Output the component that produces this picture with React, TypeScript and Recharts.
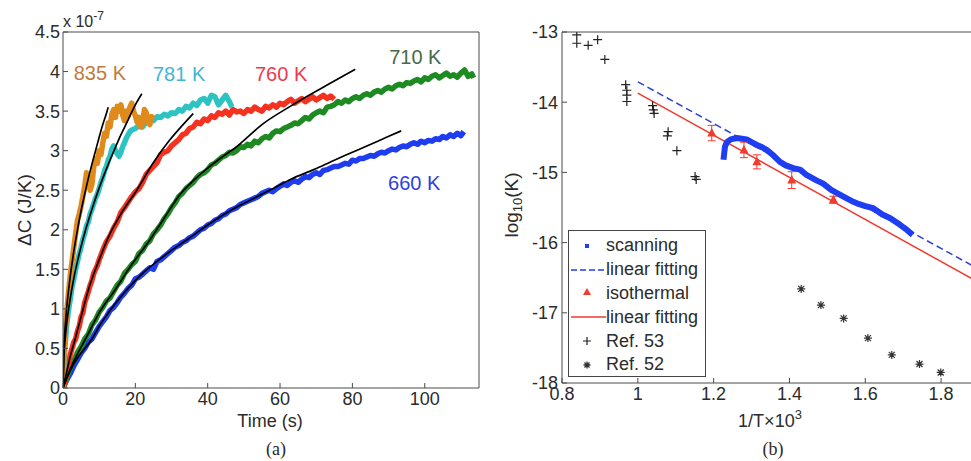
import React from "react";
import {
  ComposedChart, Line, Scatter, XAxis, YAxis, ReferenceDot, ErrorBar, Legend,
} from "recharts";

// ---------- panel (a): ΔC vs time, [t (s), ΔC (x1e-7 J/K)] ----------
const c660: number[][] = [
  [0, 0], [0.5, 0.05], [1, 0.1], [2, 0.18], [3, 0.28], [4, 0.36], [5, 0.44], [6, 0.5], [7, 0.58], [8, 0.62],
  [9, 0.7], [10, 0.78], [11, 0.84], [12, 0.9], [13, 0.98], [14, 1.02], [15, 1.08], [16, 1.15], [17, 1.2], [18, 1.26],
  [19, 1.3], [20, 1.38], [21, 1.4], [22, 1.44], [23, 1.48], [24, 1.52], [25, 1.5], [26, 1.6], [27, 1.62], [28, 1.66],
  [29, 1.7], [30, 1.74], [31, 1.78], [32, 1.8], [33, 1.84], [34, 1.86], [35, 1.9], [36, 1.92], [37, 1.96], [38, 2.0],
  [39, 2.02], [40, 2.06], [41, 2.08], [42, 2.12], [43, 2.14], [44, 2.18], [45, 2.2], [46, 2.24], [47, 2.26], [48, 2.28],
  [49, 2.32], [50, 2.34], [51, 2.36], [52, 2.38], [53, 2.4], [54, 2.42], [55, 2.46], [56, 2.48], [57, 2.5], [58, 2.48],
  [59, 2.52], [60, 2.55], [61, 2.58], [62, 2.56], [63, 2.6], [64, 2.62], [65, 2.6], [66, 2.64], [67, 2.67], [68, 2.66],
  [69, 2.7], [70, 2.72], [71, 2.7], [72, 2.75], [73, 2.76], [74, 2.78], [75, 2.8], [76, 2.8], [77, 2.82], [78, 2.84],
  [79, 2.83], [80, 2.88], [81, 2.87], [82, 2.9], [83, 2.9], [84, 2.92], [85, 2.94], [86, 2.93], [87, 2.96], [88, 2.98],
  [89, 2.97], [90, 3.0], [91, 3.02], [92, 3.01], [93, 3.04], [94, 3.06], [95, 3.05], [96, 3.08], [97, 3.1], [98, 3.08],
  [99, 3.12], [100, 3.1], [101, 3.13], [102, 3.12], [103, 3.15], [104, 3.14], [105, 3.18], [106, 3.16], [107, 3.2],
  [108, 3.18], [109, 3.22], [110, 3.19], [110.8, 3.24],
];
const c710: number[][] = [
  [0, 0], [0.5, 0.05], [1, 0.12], [1.5, 0.2], [2, 0.26], [3, 0.34], [4, 0.45], [5, 0.52], [6, 0.62], [7, 0.68],
  [8, 0.8], [9, 0.86], [10, 0.96], [11, 1.02], [12, 1.1], [13, 1.14], [14, 1.22], [15, 1.3], [16, 1.35], [17, 1.45],
  [18, 1.5], [19, 1.56], [20, 1.6], [21, 1.7], [22, 1.74], [23, 1.82], [24, 1.86], [25, 1.95], [26, 2.0], [27, 2.06],
  [28, 2.14], [29, 2.2], [30, 2.28], [31, 2.34], [32, 2.42], [33, 2.46], [34, 2.52], [35, 2.56], [36, 2.6], [37, 2.66],
  [38, 2.7], [39, 2.72], [40, 2.76], [41, 2.82], [42, 2.84], [43, 2.88], [44, 2.92], [45, 2.94], [46, 2.98], [47, 2.97],
  [48, 3.0], [49, 3.05], [50, 3.04], [51, 3.08], [52, 3.06], [53, 3.12], [54, 3.1], [55, 3.15], [56, 3.18], [57, 3.16],
  [58, 3.22], [59, 3.25], [60, 3.24], [61, 3.28], [62, 3.3], [63, 3.32], [64, 3.35], [65, 3.34], [66, 3.38], [67, 3.42],
  [68, 3.4], [69, 3.45], [70, 3.48], [71, 3.5], [72, 3.48], [73, 3.55], [74, 3.56], [75, 3.58], [76, 3.62], [77, 3.6],
  [78, 3.64], [79, 3.62], [80, 3.66], [81, 3.68], [82, 3.66], [83, 3.7], [84, 3.72], [85, 3.7], [86, 3.74], [87, 3.76],
  [88, 3.74], [89, 3.78], [90, 3.8], [91, 3.78], [92, 3.82], [93, 3.84], [94, 3.82], [95, 3.86], [96, 3.85], [97, 3.88],
  [98, 3.9], [99, 3.87], [100, 3.92], [101, 3.9], [102, 3.94], [103, 3.96], [104, 3.92], [105, 3.95], [106, 3.98],
  [107, 3.94], [108, 3.96], [109, 3.93], [110, 3.98], [111, 4.02], [112, 3.94], [113, 3.97], [113.5, 3.92],
];
const c760: number[][] = [
  [0, 0], [0.5, 0.08], [1, 0.18], [1.5, 0.3], [2, 0.42], [2.5, 0.5], [3, 0.58], [3.5, 0.62], [4, 0.72], [4.5, 0.78],
  [5, 0.9], [5.5, 0.95], [6, 1.08], [6.5, 1.15], [7, 1.22], [7.5, 1.3], [8, 1.36], [8.5, 1.45], [9, 1.5], [9.5, 1.55],
  [10, 1.62], [11, 1.74], [12, 1.85], [13, 1.92], [14, 2.02], [15, 2.1], [16, 2.22], [17, 2.28], [18, 2.35], [19, 2.42],
  [20, 2.48], [21, 2.52], [22, 2.6], [23, 2.7], [24, 2.75], [25, 2.8], [26, 2.85], [27, 2.95], [28, 2.98], [29, 3.0],
  [30, 3.06], [31, 3.1], [32, 3.14], [33, 3.2], [34, 3.22], [35, 3.28], [36, 3.3], [37, 3.36], [38, 3.34], [39, 3.4],
  [40, 3.38], [41, 3.44], [42, 3.42], [43, 3.48], [44, 3.46], [45, 3.5], [46, 3.45], [47, 3.52], [48, 3.49], [49, 3.5],
  [50, 3.47], [51, 3.52], [52, 3.5], [53, 3.55], [54, 3.52], [55, 3.5], [56, 3.56], [57, 3.54], [58, 3.58], [59, 3.55],
  [60, 3.6], [61, 3.58], [62, 3.62], [63, 3.65], [64, 3.6], [65, 3.63], [66, 3.66], [67, 3.62], [68, 3.65], [69, 3.68],
  [70, 3.64], [71, 3.67], [72, 3.7], [73, 3.66], [74, 3.69], [75, 3.65],
];
const c781: number[][] = [
  [0, 0], [0.5, 0.5], [1, 0.78], [1.5, 0.98], [2, 1.12], [2.5, 1.28], [3, 1.38], [3.5, 1.5], [4, 1.6], [4.5, 1.7],
  [5, 1.78], [5.5, 1.88], [6, 1.95], [6.5, 2.05], [7, 2.1], [7.5, 2.2], [8, 2.26], [8.5, 2.33], [9, 2.4], [9.5, 2.45],
  [10, 2.52], [10.5, 2.6], [11, 2.66], [11.5, 2.75], [12, 2.8], [12.5, 2.88], [13, 2.93], [13.5, 3.02], [14, 3.06],
  [14.5, 3.0], [15, 2.96], [15.5, 2.93], [16, 2.98], [16.5, 3.05], [17, 3.1], [17.5, 3.16], [18, 3.2], [18.5, 3.24],
  [19, 3.26], [20, 3.28], [21, 3.32], [22, 3.3], [23, 3.36], [24, 3.4], [25, 3.38], [26, 3.43], [27, 3.42], [28, 3.46],
  [29, 3.44], [30, 3.48], [31, 3.47], [32, 3.52], [33, 3.5], [34, 3.56], [35, 3.54], [36, 3.6], [37, 3.57], [38, 3.64],
  [39, 3.66], [40, 3.6], [41, 3.7], [42, 3.68], [43, 3.58], [44, 3.64], [45, 3.7], [46, 3.62], [46.7, 3.55],
];
const c835: number[][] = [
  [0, 0], [0.3, 0.45], [0.6, 0.7], [1, 0.95], [1.5, 1.2], [2, 1.42], [2.5, 1.6], [3, 1.78], [3.5, 1.95], [4, 2.12],
  [4.5, 2.2], [5, 2.3], [5.5, 2.42], [6, 2.55], [6.5, 2.72], [7, 2.62], [7.5, 2.5], [8, 2.58], [8.5, 2.8], [9, 2.9],
  [9.5, 2.84], [10, 3.0], [10.5, 2.95], [11, 3.1], [11.5, 3.22], [12, 3.18], [12.5, 3.35], [13, 3.3], [13.5, 3.46],
  [14, 3.52], [14.5, 3.42], [15, 3.56], [15.5, 3.5], [16, 3.58], [16.5, 3.45], [17, 3.38], [17.5, 3.5], [18, 3.44],
  [18.5, 3.55], [19, 3.6], [19.5, 3.5], [20, 3.44], [20.5, 3.36], [21, 3.42], [21.5, 3.3], [22, 3.34], [22.5, 3.52],
  [23, 3.48], [23.5, 3.38], [24, 3.33], [24.5, 3.43], [25, 3.4],
];

// black fitted curves
const fit660: number[][] = [
  [0, 0], [1, 0.12], [2, 0.22], [4, 0.38], [6, 0.5], [7.9, 0.61], [10, 0.78], [13, 0.98], [17.6, 1.24], [22, 1.45],
  [26, 1.6], [30, 1.74], [34.2, 1.87], [40, 2.06], [46.2, 2.24], [52, 2.38], [58, 2.52], [63, 2.64], [69.3, 2.76],
  [75, 2.88], [81, 3.0], [87, 3.12], [93.5, 3.25],
];
const fit710: number[][] = [
  [0, 0], [1, 0.12], [2, 0.24], [4, 0.43], [6.1, 0.61], [10, 0.95], [14.4, 1.24], [19, 1.56], [24, 1.87], [28, 2.15],
  [32.4, 2.45], [36, 2.62], [40, 2.78], [44, 2.92], [48, 3.05], [55, 3.33], [62.8, 3.56], [68, 3.7], [73, 3.83], [80.8, 4.03],
];
const fit760: number[][] = [
  [0, 0], [1, 0.2], [2, 0.4], [3.3, 0.61], [5, 0.9], [7, 1.24], [10, 1.62], [13, 1.95], [16, 2.2], [20.4, 2.5],
  [25, 2.85], [29.6, 3.14], [33, 3.32], [36, 3.47],
];
const fit781: number[][] = [
  [0, 0], [0.25, 0.4], [0.5, 0.57], [1, 0.8], [2, 1.13], [3, 1.39], [4, 1.6], [5, 1.79], [6, 1.96], [8, 2.26],
  [10, 2.53], [12, 2.77], [14, 2.99], [16, 3.2], [18, 3.39], [20, 3.58], [21.8, 3.72],
];
const fit835: number[][] = [
  [0, 0], [0.25, 0.5], [0.5, 0.71], [1, 1.0], [1.5, 1.22], [2, 1.41], [3, 1.73], [4, 2.0], [5, 2.24], [6, 2.45],
  [7, 2.65], [8, 2.83], [9, 3.0], [10, 3.17], [11, 3.33], [12, 3.47], [12.5, 3.55],
];

const timeTicks = [0, 20, 40, 60, 80, 100];
const dcTicks = [0, 0.5, 1, 1.5, 2, 2.5, 3, 3.5, 4, 4.5];

const curveLabels = [
  { text: "835 K", t: 10.2, v: 3.98, color: "#c27a40" },
  { text: "781 K", t: 32.1, v: 3.97, color: "#3fb6d6" },
  { text: "760 K", t: 60.3, v: 3.97, color: "#ee3a4e" },
  { text: "710 K", t: 97.4, v: 4.18, color: "#456b45" },
  { text: "660 K", t: 97.1, v: 2.59, color: "#2e3fe0" },
];

// ---------- panel (b): log10(K) vs 1/T x 1e3 ----------
const scanning: number[][] = [
  [1.226, -14.82], [1.228, -14.72], [1.23, -14.63], [1.235, -14.57], [1.245, -14.53], [1.261, -14.51], [1.275, -14.52],
  [1.287, -14.53], [1.3, -14.57], [1.314, -14.61], [1.327, -14.64], [1.34, -14.68], [1.358, -14.76], [1.375, -14.85],
  [1.39, -14.9], [1.41, -14.94], [1.428, -14.96], [1.446, -15.04], [1.47, -15.11], [1.489, -15.16], [1.51, -15.25],
  [1.534, -15.32], [1.551, -15.37], [1.565, -15.41], [1.578, -15.44], [1.6, -15.48], [1.621, -15.51], [1.645, -15.6],
  [1.665, -15.65], [1.69, -15.74], [1.71, -15.82], [1.725, -15.89],
];
const scanFit: number[][] = [[1.0, -13.71], [1.9, -16.38]];
const isothermal: number[][] = [
  [1.195, -14.44, 0.11], [1.28, -14.68, 0.11], [1.314, -14.85, 0.1], [1.406, -15.11, 0.12], [1.516, -15.39, 0.05],
];
const isoFit: number[][] = [[1.0, -13.87], [1.9, -16.57]];
const ref53: number[][] = [
  [0.839, -13.04], [0.839, -13.16], [0.869, -13.19], [0.894, -13.11], [0.913, -13.39], [0.968, -13.75], [0.971, -13.83],
  [0.971, -13.9], [0.971, -13.99], [1.039, -14.05], [1.041, -14.11], [1.043, -14.16], [1.08, -14.42], [1.078, -14.48],
  [1.103, -14.69], [1.151, -15.06], [1.154, -15.1],
];
const ref52: number[][] = [
  [1.431, -16.66], [1.483, -16.89], [1.543, -17.08], [1.607, -17.36], [1.67, -17.6], [1.743, -17.73], [1.799, -17.85],
];

const invTTicks = [0.8, 1, 1.2, 1.4, 1.6, 1.8];
const logKTicks = [-18, -17, -16, -15, -14, -13];

const legendRows = [
  { name: "scanning", icon: "dot" },
  { name: "linear fitting", icon: "dash" },
  { name: "isothermal", icon: "tri" },
  { name: "linear fitting", icon: "line" },
  { name: "Ref. 53", icon: "plus" },
  { name: "Ref. 52", icon: "star" },
];

const tv = (a: number[][]) => a.map(([t, v]) => ({ t, v }));
const xy = (a: number[][]) => a.map(([x, y, e]) => ({ x, y, e }));

const FONT = "'Liberation Sans', Arial, Helvetica, sans-serif";
const AXIS = "#4a4a4a";
const INK = "#2b2b2b";
const TL = 5; // inner tick length

const BLUE = "#1f3ef2";
const RED = "#f23a2e";

// ticks drawn inside the box, MATLAB style (axes are 1px thick so they render)
function tick(side: "bottom" | "left" | "top" | "right", gap: number) {
  return (p: any) => {
    const { x, y, payload } = p;
    const label = String(payload.value);
    if (side === "bottom") {
      const ay = y - gap;
      return (
        <g>
          <line x1={x} x2={x} y1={ay} y2={ay - TL} stroke={AXIS} />
          <text x={x} y={y} dy="0.71em" textAnchor="middle" fontSize={18} fontFamily={FONT} fill={INK}>{label}</text>
        </g>
      );
    }
    if (side === "left") {
      const ax = x + gap;
      return (
        <g>
          <line x1={ax} x2={ax + TL} y1={y} y2={y} stroke={AXIS} />
          <text x={x} y={y} dy="0.355em" textAnchor="end" fontSize={18} fontFamily={FONT} fill={INK}>{label}</text>
        </g>
      );
    }
    if (side === "top") return <line x1={x} x2={x} y1={y} y2={y + TL} stroke={AXIS} />;
    return <line x1={x} x2={x - TL} y1={y} y2={y} stroke={AXIS} />;
  };
}

const titlesA = () => (
  <g fontFamily={FONT} fill={INK}>
    <text x={270} y={427} fontSize={18} textAnchor="middle">Time (s)</text>
    <text x={276} y={455} fontSize={18} textAnchor="middle" fontFamily="'Liberation Serif', 'Times New Roman', serif">(a)</text>
    <text transform="translate(24,210) rotate(-90)" fontSize={19} textAnchor="middle" dominantBaseline="central">ΔC (J/K)</text>
    <text x={63} y={27} fontSize={16}>x 10<tspan dy={-7} fontSize={12}>-7</tspan></text>
  </g>
);

const titlesB = () => (
  <g fontFamily={FONT} fill={INK}>
    <text x={280} y={427} fontSize={18} textAnchor="middle">1/T×10<tspan dy={-8} fontSize={13}>3</tspan></text>
    <text x={283} y={455} fontSize={18} textAnchor="middle" fontFamily="'Liberation Serif', 'Times New Roman', serif">(b)</text>
    <text transform="translate(21,205) rotate(-90)" fontSize={19} textAnchor="middle" dominantBaseline="central">
      log<tspan dy={6} fontSize={13}>10</tspan><tspan dy={-6}>(K)</tspan>
    </text>
  </g>
);

const plusShape = (p: any) => (
  <path d={`M${p.cx - 4.5},${p.cy}H${p.cx + 4.5}M${p.cx},${p.cy - 4.5}V${p.cy + 4.5}`} stroke="#222" strokeWidth={1.2} />
);
const starShape = (p: any) => (
  <path
    d={`M${p.cx - 4},${p.cy}H${p.cx + 4}M${p.cx},${p.cy - 4}V${p.cy + 4}M${p.cx - 3},${p.cy - 3}L${p.cx + 3},${p.cy + 3}M${p.cx - 3},${p.cy + 3}L${p.cx + 3},${p.cy - 3}`}
    stroke="#333" strokeWidth={1.2}
  />
);
const triShape = (p: any) => (
  <path d={`M${p.cx},${p.cy - 5}L${p.cx - 4.5},${p.cy + 3.5}L${p.cx + 4.5},${p.cy + 3.5}Z`} fill={RED} />
);

function LegendIcon({ kind }: { kind: string }) {
  return (
    <svg width={37} height={20} style={{ display: "block", flex: "none" }}>
      {kind === "dot" && <rect x={16} y={8} width={4} height={4} fill={BLUE} />}
      {kind === "dash" && <line x1={2} x2={37} y1={10} y2={10} stroke={BLUE} strokeWidth={1.5} strokeDasharray="6 3" />}
      {kind === "tri" && <path d="M18,5L14,12L22,12Z" fill={RED} />}
      {kind === "line" && <line x1={2} x2={37} y1={10} y2={10} stroke={RED} strokeWidth={1.5} />}
      {kind === "plus" && <path d="M14,10H22M18,6V14" stroke="#222" strokeWidth={1.2} />}
      {kind === "star" && <path d="M14.5,10H21.5M18,6.5V13.5M15.5,7.5L20.5,12.5M15.5,12.5L20.5,7.5" stroke="#333" strokeWidth={1.3} />}
    </svg>
  );
}

const renderLegend = () => (
  <div
    style={{
      width: 138, height: 147, boxSizing: "border-box", border: "1px solid #444", background: "#fff",
      fontFamily: FONT, fontSize: 18, color: INK, paddingTop: 3,
    }}
  >
    {legendRows.map((r, i) => (
      <div key={i} style={{ display: "flex", alignItems: "center", height: 23.8, whiteSpace: "nowrap" }}>
        <LegendIcon kind={r.icon} />
        <span>{r.name}</span>
      </div>
    ))}
  </div>
);

function PanelA() {
  return (
    <ComposedChart width={490} height={461} margin={{ top: 31, right: 10, bottom: 72, left: 62 }}>
      <XAxis dataKey="t" type="number" domain={[0, 115]} ticks={timeTicks} interval={0} allowDataOverflow
        height={1} tickSize={0} tickMargin={4} tickLine={false} stroke={AXIS} tick={tick("bottom", 4)} label={titlesA} />
      <XAxis xAxisId="top" orientation="top" dataKey="t" type="number" domain={[0, 115]} ticks={timeTicks} interval={0}
        height={1} tickSize={0} tickMargin={0} tickLine={false} stroke={AXIS} tick={tick("top", 0)} />
      <YAxis dataKey="v" type="number" domain={[0, 4.5]} ticks={dcTicks} interval={0} allowDataOverflow
        width={1} tickSize={0} tickMargin={3} tickLine={false} stroke={AXIS} tick={tick("left", 3)} />
      <YAxis yAxisId="right" orientation="right" type="number" domain={[0, 4.5]} ticks={dcTicks} interval={0}
        width={1} tickSize={0} tickMargin={0} tickLine={false} stroke={AXIS} tick={tick("right", 0)} />

      <Line data={tv(c660)} dataKey="v" stroke="#1e3cf0" strokeWidth={5.5} dot={false} isAnimationActive={false} strokeLinejoin="round" />
      <Line data={tv(c710)} dataKey="v" stroke="#1d8a22" strokeWidth={5.5} dot={false} isAnimationActive={false} strokeLinejoin="round" />
      <Line data={tv(c760)} dataKey="v" stroke="#f5321f" strokeWidth={5.5} dot={false} isAnimationActive={false} strokeLinejoin="round" />
      <Line data={tv(c781)} dataKey="v" stroke="#2ec3c3" strokeWidth={5.5} dot={false} isAnimationActive={false} strokeLinejoin="round" />
      <Line data={tv(c835)} dataKey="v" stroke="#e08a1c" strokeWidth={5.5} dot={false} isAnimationActive={false} strokeLinejoin="round" />

      {[fit660, fit710, fit760, fit781, fit835].map((f, i) => (
        <Line key={i} data={tv(f)} dataKey="v" type="monotone" stroke="#000" strokeWidth={1.7} dot={false} isAnimationActive={false} />
      ))}

      {curveLabels.map((c) => (
        <ReferenceDot key={c.text} x={c.t} y={c.v} r={0} fill="none" stroke="none"
          label={{ value: c.text, position: "center", fill: c.color, fontSize: 20, fontFamily: FONT }} />
      ))}
    </ComposedChart>
  );
}

function PanelB() {
  return (
    <ComposedChart width={501} height={461} margin={{ top: 31, right: 12, bottom: 77, left: 71 }}>
      <XAxis dataKey="x" type="number" domain={[0.8, 1.9]} ticks={invTTicks} interval={0} allowDataOverflow
        height={1} tickSize={0} tickMargin={4} tickLine={false} stroke={AXIS} tick={tick("bottom", 4)} label={titlesB} />
      <XAxis xAxisId="top" orientation="top" type="number" domain={[0.8, 1.9]} ticks={invTTicks} interval={0}
        height={1} tickSize={0} tickMargin={0} tickLine={false} stroke={AXIS} tick={tick("top", 0)} />
      <YAxis dataKey="y" type="number" domain={[-18, -13]} ticks={logKTicks} interval={0} allowDataOverflow
        width={1} tickSize={0} tickMargin={4} tickLine={false} stroke={AXIS} tick={tick("left", 4)} />

      <Line data={xy(scanFit)} dataKey="y" type="linear" stroke="#2b3fd6" strokeWidth={1.5} strokeDasharray="7 4" dot={false} isAnimationActive={false} />
      <Line data={xy(isoFit)} dataKey="y" type="linear" stroke={RED} strokeWidth={1.5} dot={false} isAnimationActive={false} />
      <Line data={xy(scanning)} dataKey="y" type="linear" stroke={BLUE} strokeWidth={6} strokeLinejoin="round" dot={false} isAnimationActive={false} />
      <Scatter data={xy(isothermal)} shape={triShape} isAnimationActive={false}>
        <ErrorBar dataKey="e" direction="y" stroke={RED} strokeWidth={1} width={4} />
      </Scatter>
      <Scatter data={xy(ref53)} shape={plusShape} isAnimationActive={false} />
      <Scatter data={xy(ref52)} shape={starShape} isAnimationActive={false} />

      <Legend layout="vertical" align="center" verticalAlign="middle" content={renderLegend}
        wrapperStyle={{ left: 78, top: 230, width: 138, height: 147 }} />
    </ComposedChart>
  );
}

export default function App() {
  return (
    <div style={{ position: "fixed", left: 0, top: 0, width: 971, height: 461, overflow: "hidden", background: "#fff" }}>
      <div style={{ position: "absolute", left: 0, top: 0 }}>
        <PanelA />
      </div>
      <div style={{ position: "absolute", left: 490, top: 0 }}>
        <PanelB />
      </div>
    </div>
  );
}
